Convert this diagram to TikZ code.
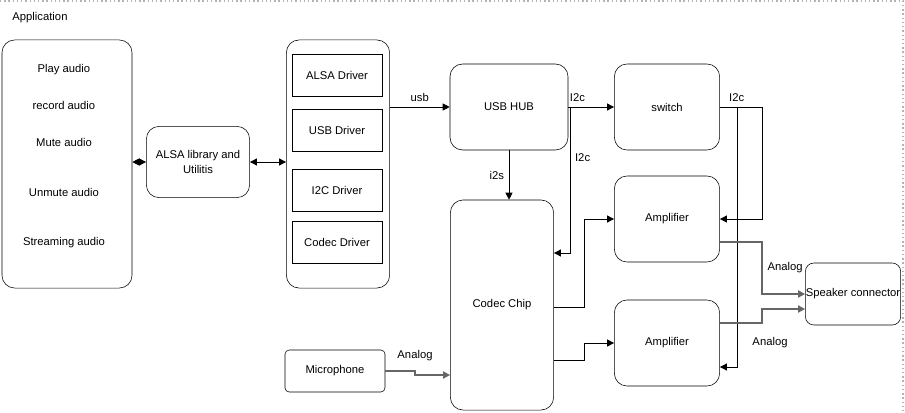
\documentclass[tikz,border=0pt]{standalone}
\usepackage{fontspec}
\setmainfont{Liberation Sans}
\usetikzlibrary{arrows.meta,positioning}
\tikzset{
  blk/.style={draw, rounded corners=9pt, align=center, font=\fontsize{8}{10}\selectfont, inner sep=0pt},
  drv/.style={draw, font=\fontsize{8}{10}\selectfont, minimum width=2.25cm, minimum height=1.05cm},
  lbl/.style={font=\fontsize{8}{10}\selectfont},
  arr/.style={-{Triangle[length=5pt,width=5pt]}, semithick},
  dbl/.style={{Triangle[length=5pt,width=5pt]}-{Triangle[length=5pt,width=5pt]}, semithick},
  ana/.style={-{Triangle[length=5pt,width=5pt]}, line width=1.2pt, draw=black!60}
}
\begin{document}
\begin{tikzpicture}[x=0.025cm, y=-0.025cm]
  \useasboundingbox (0,0) rectangle (905,413);
  % canvas border
  \draw[black!30, dotted, line width=1pt] (0,1) -- (903,1) -- (903,413);

  % application
  \node[lbl] (app) at (40,18) {Application};
  \node[blk, minimum width=3.25cm, minimum height=6.2cm] (appbox) at (67,164) {};
  \node[lbl] (play) at (64,70) {Play audio};
  \node[lbl] (rec) at (64,105) {record audio};
  \node[lbl] (mute) at (64,142) {Mute audio};
  \node[lbl] (unmute) at (64,192) {Unmute audio};
  \node[lbl] (stream) at (64,243) {Streaming audio};

  \node[blk, minimum width=2.58cm, minimum height=1.78cm] (alsa) at (198,162) {ALSA library and\\Utilitis};

  % drivers
  \node[blk, minimum width=2.58cm, minimum height=6.2cm] (drvbox) at (338,164) {};
  \node[drv] (alsadrv) at (337,75) {ALSA Driver};
  \node[drv] (usbdrv) at (337,130) {USB Driver};
  \node[drv] (i2cdrv) at (337,190) {I2C Driver};
  \node[drv] (codecdrv) at (337,242) {Codec Driver};

  % hardware
  \node[blk, minimum width=2.95cm, minimum height=2.15cm] (hub) at (509,107) {USB HUB};
  \node[blk, minimum width=2.63cm, minimum height=2.15cm] (switch) at (667,107) {switch};
  \node[blk, minimum width=2.63cm, minimum height=2.15cm] (amp1) at (667,219) {Amplifier};
  \node[blk, minimum width=2.63cm, minimum height=2.15cm] (amp2) at (667,343) {Amplifier};
  \node[blk, minimum width=2.58cm, minimum height=5.25cm] (codec) at (502,305) {Codec Chip};
  \node[blk, rounded corners=3pt, minimum width=2.5cm, minimum height=1.05cm] (mic) at (335,371) {Microphone};
  \node[blk, rounded corners=6pt, minimum width=2.38cm, minimum height=1.55cm] (spk) at (853,294) {Speaker connector};

  % connections
  \draw[dbl] (appbox.east |- alsa) -- (alsa.west);
  \draw[dbl] (alsa.east) -- (drvbox.west |- alsa);
  \draw[arr] (drvbox.east |- hub) -- node[lbl, above] {usb} (hub.west);
  \draw[arr] (hub.east) -- node[lbl, above, pos=0.2] {I2c} (switch.west);
  \draw[arr] (hub.south) -- node[lbl, left] {i2s} (hub.south |- codec.north);
  \draw[arr] (570,107) -- node[lbl, right, pos=0.35] {I2c} (570,253) -- (codec.east |- 0,253);
  \draw[arr] (codec.east |- 0,307) -- (584,307) -- (584,219) -- (amp1.west);
  \draw[arr] (codec.east |- 0,360) -- (584,360) -- (584,343) -- (amp2.west);
  \draw[arr] (switch.east) -- node[lbl, above, pos=0.4] {I2c} (762,107) -- (762,219) -- (amp1.east);
  \draw[arr] (737,107) -- (737,367) -- (amp2.east |- 0,367);
  \draw[ana] (amp1.east |- 0,242) -- (762,242) -- node[lbl, black, right, pos=0.5] {Analog} (762,294) -- (spk.west);
  \draw[ana] (amp2.east |- 0,323) -- (762,323) -- (762,309) -- (spk.west |- 0,309);
  \node[lbl] (analog2) at (770,343) {Analog};
  \draw[ana] (mic.east) -- (415,371) -- node[lbl, black, above=6pt, pos=1] {Analog} (415,375) -- (codec.west |- 0,375);
\end{tikzpicture}
\end{document}
